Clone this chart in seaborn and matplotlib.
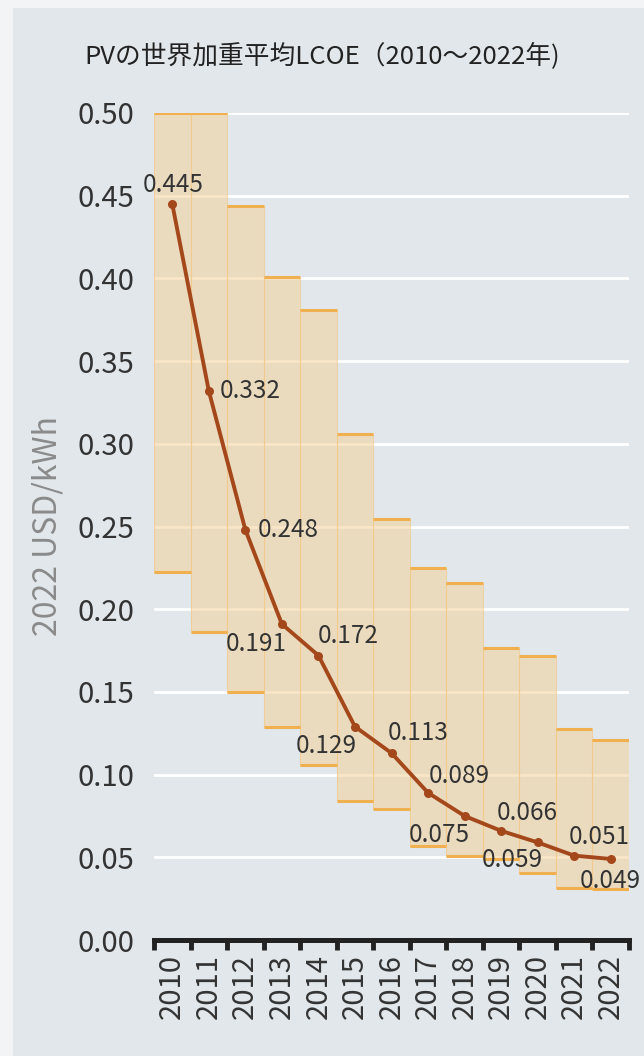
import matplotlib
matplotlib.use("Agg")
import matplotlib.pyplot as plt
import seaborn as sns
import numpy as np
import pandas as pd

# data
years = ["2010", "2011", "2012", "2013", "2014", "2015", "2016",
         "2017", "2018", "2019", "2020", "2021", "2022"]
lcoe = [0.445, 0.332, 0.248, 0.191, 0.172, 0.129, 0.113,
        0.089, 0.075, 0.066, 0.059, 0.051, 0.049]
range_high = [0.50, 0.50, 0.444, 0.401, 0.381, 0.306, 0.2545,
              0.225, 0.216, 0.1765, 0.172, 0.1275, 0.121]
range_low = [0.2225, 0.186, 0.150, 0.129, 0.106, 0.084, 0.079,
             0.057, 0.051, 0.049, 0.0405, 0.0315, 0.031]
yticks = [0.00, 0.05, 0.10, 0.15, 0.20, 0.25, 0.30, 0.35, 0.40, 0.45, 0.50]

# label offsets in pixels (dx, dy) relative to each point
label_offsets = [(1, 19), (11, 0), (12, 0), (-26, -20), (30, 20), (-29, -19),
                 (27, 20), (31, 17), (-25, -19), (26, 18), (-25, -18),
                 (25, 19), (0, -22)]

BG = "#e1e7ea"
TEXT = "#333333"

sns.set_theme(style="white")
plt.rcParams['font.family'] = ['Noto Sans CJK JP', 'DejaVu Sans']

df = pd.DataFrame({"pos": np.arange(len(years)), "lcoe": lcoe})

fig = plt.figure(figsize=(6.44, 10.56), dpi=100)
fig.patch.set_facecolor("#f2f4f5")
# grey panel behind everything (light strip on the left and top)
bg_ax = fig.add_axes([13 / 644, 0, 1 - 13 / 644, 1 - 8 / 1056], zorder=-10)
bg_ax.set_axis_off()
bg_ax.add_patch(plt.Rectangle((0, 0), 1, 1, transform=bg_ax.transAxes, color=BG))

ax = fig.add_axes([154 / 644, 1 - 940 / 1056, (629 - 154) / 644, (940 - 113) / 1056])
ax.set_facecolor("none")

# white gridlines
for y in yticks[1:]:
    ax.axhline(y, color="white", linewidth=2, zorder=1)

# range bars
heights = np.array(range_high) - np.array(range_low)
ax.bar(df["pos"], heights, bottom=range_low, width=1.0, color="#f5d29a",
       alpha=0.55, edgecolor="none", zorder=2)
ax.bar(df["pos"], heights, bottom=range_low, width=1.0, fill=False,
       edgecolor="#f3c98a", linewidth=0.8, alpha=0.7, zorder=2)
ax.hlines(range_high, df["pos"] - 0.5, df["pos"] + 0.5, color="#f0b050", linewidth=2.2, zorder=3)
ax.hlines(range_low, df["pos"] - 0.5, df["pos"] + 0.5, color="#f0b050", linewidth=2.2, zorder=3)

# weighted average line
sns.lineplot(data=df, x="pos", y="lcoe", ax=ax, color="#a4481c", linewidth=2.8,
             marker="o", markersize=6.5, markeredgewidth=0, zorder=5)

for i, v in enumerate(lcoe):
    dx, dy = label_offsets[i]
    ha = "left" if (dy == 0) else "center"
    ax.annotate(f"{v:.3f}", (i, v), xytext=(dx, dy), textcoords="offset pixels",
                ha=ha, va="center", fontsize=17.5, color=TEXT, zorder=6)

ax.set_xlim(-0.5, len(years) - 0.5)
ax.set_ylim(0, 0.5)
ax.set_yticks(yticks)
ax.set_yticklabels([f"{t:.2f}" for t in yticks], fontsize=21, color=TEXT)
ax.tick_params(axis="y", length=0, pad=14)

ax.set_xticks(np.arange(len(years) + 1) - 0.5)
ax.set_xticklabels([])
ax.set_xticks(np.arange(len(years)), minor=True)
ax.set_xticklabels(years, minor=True, rotation=90, fontsize=21, color=TEXT)
ax.tick_params(axis="x", which="major", bottom=True, length=7, width=3.5,
               color="#222222", direction="out")
ax.tick_params(axis="x", which="minor", bottom=True, length=0, pad=10)

for s in ["top", "right", "left"]:
    ax.spines[s].set_visible(False)
ax.spines["bottom"].set_color("#222222")
ax.spines["bottom"].set_linewidth(3.6)
ax.spines["bottom"].set_zorder(7)
ax.set_xlabel("")
ax.set_ylabel("2022 USD/kWh", fontsize=23, color="#8a8a8a", labelpad=10)

fig.text(0.5, 1 - 56 / 1056, "PVの世界加重平均LCOE（2010〜2022年)",
         ha="center", va="center", fontsize=18.5, color="#222222")

fig.savefig("out.png", dpi=100, facecolor=fig.get_facecolor())
